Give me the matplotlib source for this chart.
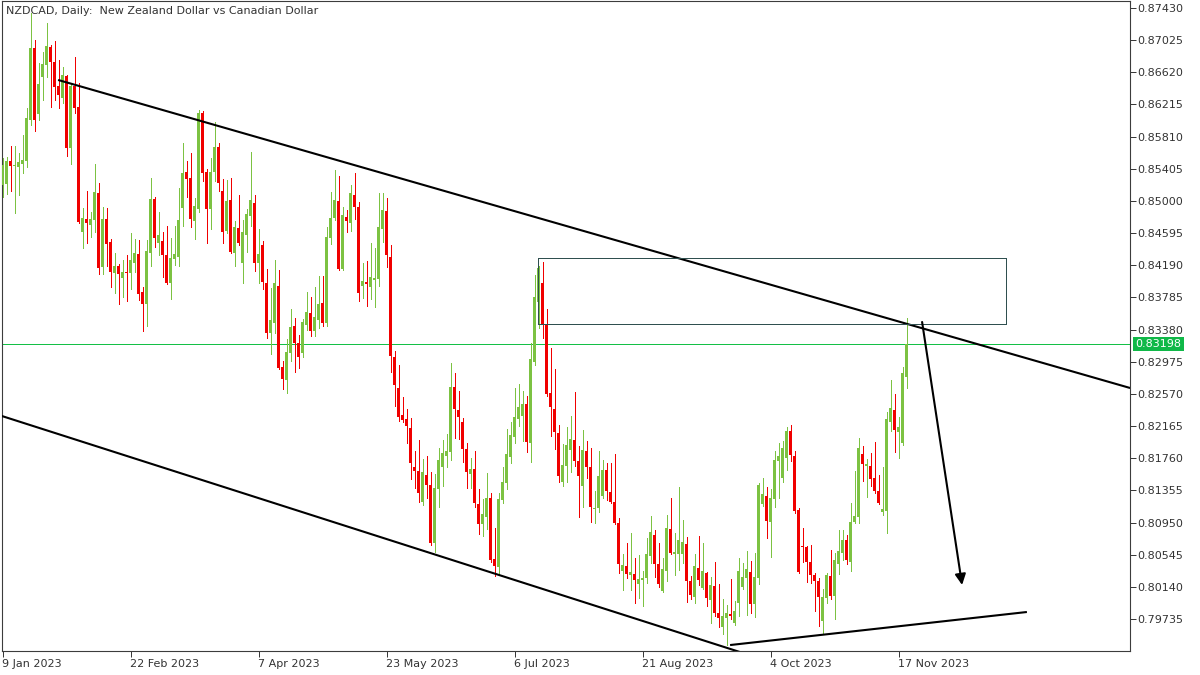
import numpy as np
import matplotlib
matplotlib.use('Agg')
import matplotlib.pyplot as plt
from matplotlib.patches import Rectangle

# ---- Style (MT5 look) ----
GREEN = '#7CC242'
RED = '#F00000'
LINE_GREEN = '#14C046'
INK = '#333333'
FRAME = '#3C3C3C'
PX = 0.6   # line width that gives a single crisp pixel when not antialiased

TITLE = 'NZDCAD, Daily:  New Zealand Dollar vs Canadian Dollar'

# ---- Data (daily OHLC) ----
opens = [
    0.8520, 0.8521, 0.8550, 0.8544, 0.8543, 0.8546, 0.8550, 0.8602, 0.8693, 0.8610,
    0.8656, 0.8671, 0.8694, 0.8675, 0.8645, 0.8630, 0.8657, 0.8567, 0.8645, 0.8618,
    0.8461, 0.8477, 0.8470, 0.8476, 0.8510, 0.8417, 0.8477, 0.8448, 0.8409, 0.8418,
    0.8403, 0.8411, 0.8409, 0.8422, 0.8433, 0.8385, 0.8370, 0.8435, 0.8502, 0.8447,
    0.8450, 0.8432, 0.8397, 0.8427, 0.8429, 0.8491, 0.8536, 0.8529, 0.8475, 0.8490,
    0.8611, 0.8536, 0.8490, 0.8536, 0.8568, 0.8512, 0.8462, 0.8501, 0.8435, 0.8466,
    0.8422, 0.8457, 0.8481, 0.8497, 0.8422, 0.8445, 0.8397, 0.8334, 0.8346, 0.8393,
    0.8291, 0.8275, 0.8309, 0.8343, 0.8321, 0.8309, 0.8344, 0.8359, 0.8336, 0.8350,
    0.8371, 0.8346, 0.8453, 0.8479, 0.8500, 0.8414, 0.8480, 0.8472, 0.8507, 0.8492,
    0.8393, 0.8398, 0.8392, 0.8400, 0.8402, 0.8465, 0.8487, 0.8429, 0.8304, 0.8264,
    0.8230, 0.8225, 0.8214, 0.8165, 0.8160, 0.8121, 0.8155, 0.8142, 0.8069, 0.8137,
    0.8165, 0.8179, 0.8184, 0.8266, 0.8237, 0.8222, 0.8188, 0.8156, 0.8162, 0.8118,
    0.8093, 0.8102, 0.8126, 0.8049, 0.8039, 0.8124, 0.8145, 0.8178, 0.8203, 0.8225,
    0.8229, 0.8244, 0.8195, 0.8297, 0.8373, 0.8397, 0.8345, 0.8258, 0.8238, 0.8208,
    0.8146, 0.8166, 0.8186, 0.8199, 0.8173, 0.8141, 0.8185, 0.8165, 0.8112, 0.8113,
    0.8128, 0.8161, 0.8134, 0.8121, 0.8094, 0.8034, 0.8040, 0.8029, 0.8030, 0.8018,
    0.8023, 0.8025, 0.8053, 0.8079, 0.8043, 0.8009, 0.8034, 0.8087, 0.8055, 0.8055,
    0.8055, 0.8068, 0.8021, 0.8001, 0.8038, 0.8013, 0.8032, 0.7998, 0.8015, 0.7981,
    0.7964, 0.7975, 0.7980, 0.7969, 0.7994, 0.8014, 0.8025, 0.8033, 0.7993, 0.8025,
    0.8118, 0.8128, 0.8096, 0.8125, 0.8173, 0.8151, 0.8176, 0.8210, 0.8179, 0.8111,
    0.8066, 0.8064, 0.8045, 0.8029, 0.8022, 0.7971, 0.8000, 0.8028, 0.8003, 0.8043,
    0.8057, 0.8073, 0.8045, 0.8096, 0.8102, 0.8181, 0.8166, 0.8166, 0.8151, 0.8135,
    0.8108, 0.8110, 0.8222, 0.8237, 0.8209, 0.8195, 0.8278,
]
highs = [
    0.8554, 0.8555, 0.8569, 0.8569, 0.8560, 0.8583, 0.8617, 0.8737, 0.8703, 0.8674,
    0.8688, 0.8724, 0.8696, 0.8701, 0.8677, 0.8669, 0.8659, 0.8649, 0.8681, 0.8649,
    0.8491, 0.8512, 0.8486, 0.8546, 0.8523, 0.8492, 0.8491, 0.8452, 0.8435, 0.8420,
    0.8426, 0.8432, 0.8460, 0.8452, 0.8451, 0.8392, 0.8451, 0.8529, 0.8505, 0.8486,
    0.8461, 0.8468, 0.8453, 0.8468, 0.8516, 0.8573, 0.8550, 0.8560, 0.8504, 0.8615,
    0.8613, 0.8540, 0.8554, 0.8599, 0.8573, 0.8528, 0.8526, 0.8529, 0.8475, 0.8507,
    0.8476, 0.8490, 0.8562, 0.8507, 0.8465, 0.8450, 0.8414, 0.8390, 0.8426, 0.8413,
    0.8298, 0.8326, 0.8364, 0.8353, 0.8331, 0.8351, 0.8385, 0.8379, 0.8392, 0.8405,
    0.8405, 0.8467, 0.8511, 0.8539, 0.8531, 0.8492, 0.8489, 0.8520, 0.8535, 0.8499,
    0.8422, 0.8424, 0.8447, 0.8441, 0.8510, 0.8510, 0.8504, 0.8445, 0.8311, 0.8293,
    0.8253, 0.8238, 0.8227, 0.8185, 0.8199, 0.8175, 0.8179, 0.8159, 0.8156, 0.8189,
    0.8199, 0.8207, 0.8296, 0.8283, 0.8261, 0.8227, 0.8195, 0.8176, 0.8185, 0.8137,
    0.8125, 0.8157, 0.8132, 0.8088, 0.8132, 0.8165, 0.8213, 0.8222, 0.8264, 0.8269,
    0.8261, 0.8254, 0.8321, 0.8407, 0.8418, 0.8423, 0.8364, 0.8315, 0.8288, 0.8218,
    0.8194, 0.8215, 0.8229, 0.8259, 0.8191, 0.8212, 0.8198, 0.8189, 0.8135, 0.8185,
    0.8174, 0.8170, 0.8170, 0.8181, 0.8101, 0.8055, 0.8069, 0.8082, 0.8050, 0.8054,
    0.8034, 0.8076, 0.8103, 0.8086, 0.8069, 0.8050, 0.8105, 0.8126, 0.8082, 0.8140,
    0.8098, 0.8077, 0.8028, 0.8055, 0.8078, 0.8069, 0.8033, 0.8027, 0.8045, 0.8018,
    0.7999, 0.7991, 0.8024, 0.7996, 0.8050, 0.8044, 0.8059, 0.8047, 0.8057, 0.8145,
    0.8151, 0.8140, 0.8137, 0.8185, 0.8195, 0.8198, 0.8215, 0.8218, 0.8185, 0.8113,
    0.8088, 0.8066, 0.8067, 0.8032, 0.8025, 0.8011, 0.8032, 0.8060, 0.8057, 0.8086,
    0.8086, 0.8079, 0.8120, 0.8160, 0.8202, 0.8191, 0.8175, 0.8183, 0.8197, 0.8155,
    0.8165, 0.8234, 0.8275, 0.8257, 0.8228, 0.8291, 0.8353,
]
lows = [
    0.8505, 0.8509, 0.8512, 0.8485, 0.8507, 0.8535, 0.8543, 0.8596, 0.8588, 0.8602,
    0.8627, 0.8656, 0.8618, 0.8627, 0.8617, 0.8623, 0.8557, 0.8546, 0.8611, 0.8472,
    0.8441, 0.8447, 0.8455, 0.8461, 0.8408, 0.8408, 0.8418, 0.8392, 0.8384, 0.8370,
    0.8379, 0.8374, 0.8389, 0.8411, 0.8375, 0.8336, 0.8343, 0.8418, 0.8442, 0.8432,
    0.8404, 0.8395, 0.8377, 0.8419, 0.8418, 0.8468, 0.8505, 0.8467, 0.8452, 0.8486,
    0.8525, 0.8447, 0.8465, 0.8525, 0.8512, 0.8447, 0.8460, 0.8435, 0.8418, 0.8445,
    0.8397, 0.8436, 0.8468, 0.8412, 0.8397, 0.8389, 0.8327, 0.8307, 0.8334, 0.8288,
    0.8263, 0.8258, 0.8298, 0.8285, 0.8290, 0.8304, 0.8338, 0.8330, 0.8330, 0.8340,
    0.8343, 0.8343, 0.8446, 0.8476, 0.8413, 0.8413, 0.8461, 0.8462, 0.8477, 0.8374,
    0.8378, 0.8368, 0.8377, 0.8366, 0.8393, 0.8448, 0.8417, 0.8285, 0.8242, 0.8223,
    0.8222, 0.8195, 0.8150, 0.8139, 0.8121, 0.8117, 0.8126, 0.8067, 0.8058, 0.8115,
    0.8141, 0.8165, 0.8174, 0.8202, 0.8200, 0.8171, 0.8139, 0.8139, 0.8115, 0.8081,
    0.8078, 0.8087, 0.8045, 0.8028, 0.8029, 0.8120, 0.8137, 0.8170, 0.8195, 0.8217,
    0.8198, 0.8184, 0.8171, 0.8293, 0.8340, 0.8327, 0.8255, 0.8204, 0.8188, 0.8146,
    0.8141, 0.8146, 0.8159, 0.8166, 0.8102, 0.8115, 0.8151, 0.8096, 0.8094, 0.8108,
    0.8126, 0.8124, 0.8120, 0.8093, 0.8032, 0.8010, 0.8025, 0.8010, 0.7994, 0.8000,
    0.7990, 0.8019, 0.8044, 0.8027, 0.8014, 0.8008, 0.8021, 0.8056, 0.8029, 0.8035,
    0.8044, 0.7995, 0.7999, 0.7994, 0.8016, 0.8012, 0.7990, 0.7969, 0.7977, 0.7964,
    0.7955, 0.7941, 0.7974, 0.7966, 0.7977, 0.8012, 0.7979, 0.7981, 0.7976, 0.8018,
    0.8116, 0.8076, 0.8052, 0.8115, 0.8126, 0.8146, 0.8161, 0.8173, 0.8107, 0.8032,
    0.8045, 0.8020, 0.8019, 0.7984, 0.7965, 0.7955, 0.7994, 0.7999, 0.7974, 0.8030,
    0.8048, 0.8043, 0.8034, 0.8094, 0.8094, 0.8148, 0.8127, 0.8141, 0.8132, 0.8118,
    0.8105, 0.8082, 0.8210, 0.8184, 0.8176, 0.8193, 0.8264,
]
closes = [
    0.8545, 0.8550, 0.8544, 0.8545, 0.8549, 0.8552, 0.8604, 0.8693, 0.8602, 0.8647,
    0.8672, 0.8695, 0.8675, 0.8643, 0.8633, 0.8659, 0.8567, 0.8645, 0.8617, 0.8474,
    0.8479, 0.8472, 0.8477, 0.8511, 0.8416, 0.8477, 0.8446, 0.8411, 0.8418, 0.8408,
    0.8411, 0.8409, 0.8426, 0.8435, 0.8383, 0.8370, 0.8437, 0.8502, 0.8453, 0.8457,
    0.8432, 0.8397, 0.8428, 0.8433, 0.8476, 0.8535, 0.8528, 0.8477, 0.8494, 0.8611,
    0.8535, 0.8490, 0.8536, 0.8568, 0.8523, 0.8461, 0.8500, 0.8436, 0.8467, 0.8447,
    0.8461, 0.8484, 0.8501, 0.8422, 0.8433, 0.8398, 0.8334, 0.8350, 0.8397, 0.8290,
    0.8276, 0.8310, 0.8341, 0.8321, 0.8304, 0.8348, 0.8360, 0.8336, 0.8354, 0.8370,
    0.8346, 0.8455, 0.8479, 0.8501, 0.8414, 0.8482, 0.8475, 0.8510, 0.8492, 0.8384,
    0.8399, 0.8395, 0.8404, 0.8403, 0.8467, 0.8489, 0.8432, 0.8305, 0.8268, 0.8228,
    0.8224, 0.8217, 0.8170, 0.8160, 0.8132, 0.8159, 0.8142, 0.8069, 0.8139, 0.8174,
    0.8183, 0.8185, 0.8266, 0.8238, 0.8228, 0.8188, 0.8159, 0.8162, 0.8120, 0.8093,
    0.8106, 0.8126, 0.8048, 0.8040, 0.8125, 0.8146, 0.8181, 0.8205, 0.8228, 0.8241,
    0.8244, 0.8196, 0.8301, 0.8379, 0.8416, 0.8345, 0.8257, 0.8241, 0.8209, 0.8154,
    0.8168, 0.8193, 0.8200, 0.8173, 0.8154, 0.8186, 0.8165, 0.8115, 0.8114, 0.8154,
    0.8161, 0.8135, 0.8121, 0.8094, 0.8043, 0.8042, 0.8030, 0.8033, 0.8023, 0.8024,
    0.8025, 0.8055, 0.8083, 0.8043, 0.8018, 0.8037, 0.8088, 0.8057, 0.8058, 0.8073,
    0.8071, 0.8021, 0.8004, 0.8040, 0.8023, 0.8034, 0.8000, 0.8016, 0.7981, 0.7975,
    0.7978, 0.7981, 0.7977, 0.7984, 0.8034, 0.8027, 0.8037, 0.7993, 0.8027, 0.8142,
    0.8131, 0.8097, 0.8126, 0.8174, 0.8179, 0.8189, 0.8210, 0.8180, 0.8110, 0.8033,
    0.8064, 0.8045, 0.8029, 0.8022, 0.8001, 0.8001, 0.8029, 0.8003, 0.8048, 0.8059,
    0.8073, 0.8048, 0.8096, 0.8103, 0.8189, 0.8169, 0.8169, 0.8150, 0.8135, 0.8120,
    0.8112, 0.8225, 0.8239, 0.8212, 0.8215, 0.8283, 0.83198,
]
LAST_PRICE = 0.83198

date_labels = ['9 Jan 2023', '22 Feb 2023', '7 Apr 2023', '23 May 2023',
               '6 Jul 2023', '21 Aug 2023', '4 Oct 2023', '17 Nov 2023']
date_bars = [0, 32, 64, 96, 128, 160, 192, 224]   # bar index of each date label

price_ticks = [0.79735, 0.80140, 0.80545, 0.80950, 0.81355, 0.81760, 0.82165,
               0.82570, 0.82975, 0.83380, 0.83785, 0.84190, 0.84595, 0.85000,
               0.85405, 0.85810, 0.86215, 0.86620, 0.87025, 0.87430]

# hand-drawn analysis objects, (bar index, price)
upper_trend = [(13.9, 0.86523), (281.9, 0.82645)]
lower_trend = [(-0.2, 0.82293), (200.0, 0.79069)]
support_line = [(181.9, 0.79409), (256.1, 0.79825)]
zone = [(133.9, 0.83451), (250.9, 0.84278)]
arrow = [(229.9, 0.83476), (239.9, 0.80165)]

# ---- Figure ----
fig = plt.figure(figsize=(12, 6.75), dpi=100)
fig.patch.set_facecolor('white')
ax = fig.add_axes([2 / 1200, 24 / 675, 1128 / 1200, 650 / 675])

o = np.array(opens)
h = np.array(highs)
l = np.array(lows)
c = np.array(closes)
x = np.arange(len(o))
cols = np.where(c >= o, GREEN, RED)

# crisp pixel candles like the terminal draws them
ax.vlines(x, l, h, colors=cols, linewidth=PX, antialiased=False, zorder=2)
ax.bar(x, np.maximum(np.abs(c - o), 0.00012), bottom=np.minimum(o, c),
       width=0.75, color=cols, linewidth=0, antialiased=False, zorder=3)

ax.axhline(LAST_PRICE, color=LINE_GREEN, linewidth=PX, antialiased=False,
           zorder=1)

for seg in (upper_trend, lower_trend, support_line):
    ax.plot([seg[0][0], seg[1][0]], [seg[0][1], seg[1][1]],
            color='black', linewidth=1.5, solid_capstyle='butt', zorder=4)

ax.add_patch(Rectangle(zone[0], zone[1][0] - zone[0][0], zone[1][1] - zone[0][1],
                       fill=False, edgecolor='#2F4F4F', linewidth=PX,
                       antialiased=False, zorder=4))

ax.annotate('', xy=arrow[1], xytext=arrow[0],
            arrowprops=dict(arrowstyle='-|>', color='black', lw=1.5,
                            mutation_scale=16, shrinkA=0, shrinkB=0),
            zorder=5)

ax.set_xlim(-0.125, 281.875)
ax.set_ylim(0.79334, 0.87517)

# axes / ticks
for sp in ax.spines.values():
    sp.set_color(FRAME)
    sp.set_linewidth(0.8)
ax.yaxis.tick_right()
ax.set_yticks(price_ticks)
ax.set_yticklabels([f'{v:.5f}' for v in price_ticks])
ax.tick_params(axis='y', direction='out', length=4, width=0.7, pad=1,
               labelsize=8, colors=INK)
ax.set_xticks(date_bars)
ax.set_xticklabels(date_labels, ha='left')
ax.tick_params(axis='x', direction='out', length=4, width=0.7, pad=1.5,
               labelsize=8, colors=INK)

# current price tag
ax.annotate(f'{LAST_PRICE:.5f}', xy=(1, LAST_PRICE),
            xycoords=('axes fraction', 'data'), xytext=(4, 0),
            textcoords='offset points', ha='left', va='center',
            fontsize=8, color='white', annotation_clip=False,
            bbox=dict(boxstyle='square,pad=0.2', fc='#10B848', ec='none'))

fig.text(6 / 1200, 1 - 11 / 675, TITLE, fontsize=8, ha='left', va='center',
         color=INK)

plt.savefig('out.png', dpi=100, facecolor='white')
